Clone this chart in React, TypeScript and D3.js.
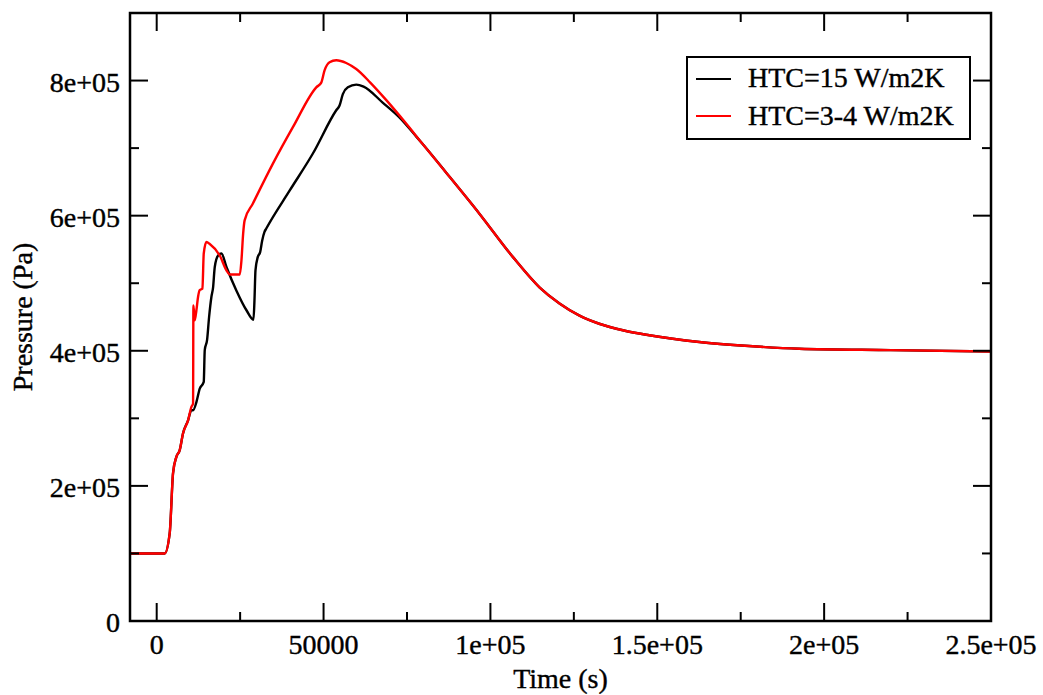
import React from "react";
import * as d3 from "d3";

const xMajorTicks = [0, 50000, 100000, 150000, 200000, 250000];
const xMajorLabels = ["0", "50000", "1e+05", "1.5e+05", "2e+05", "2.5e+05"];
const xMinorTicks = [25000, 75000, 125000, 175000, 225000];
const yMajorTicks = [0, 200000, 400000, 600000, 800000];
const yMajorLabels = ["0", "2e+05", "4e+05", "6e+05", "8e+05"];
const yMinorTicks = [100000, 300000, 500000, 700000];

const seriesNames = ["HTC=15 W/m2K", "HTC=3-4 W/m2K"];
const seriesColors = ["#000000", "#ff0000"];

const commonTail: [number, number][] = [
  [79700, 7.06e5], [86700, 6.64e5], [96700, 6.03e5], [106700, 5.39e5], [114700, 4.94e5],
  [120700, 4.7e5], [126700, 4.52e5], [132600, 4.4e5], [140000, 4.3e5], [147600, 4.23e5],
  [162600, 4.13e5], [177500, 4.07e5], [192500, 4.03e5], [220000, 4.01e5], [250000, 3.99e5],
];

const blackData: [number, number][] = [
  [-8000, 1.0e5], [2400, 1.0e5], [3900, 1.3e5], [4900, 2.19e5], [5900, 2.43e5], [6900, 2.53e5],
  [7900, 2.78e5], [9400, 2.97e5], [10400, 3.12e5], [10900, 3.12e5], [11900, 3.24e5],
  [12900, 3.44e5], [14100, 3.54e5], [14400, 4.01e5], [15100, 4.16e5], [15700, 4.5e5],
  [16400, 4.8e5], [16900, 4.94e5], [17400, 5.24e5], [18400, 5.41e5], [19400, 5.44e5],
  [20900, 5.24e5], [23900, 4.89e5], [26900, 4.6e5], [29000, 4.46e5], [29300, 4.75e5],
  [29600, 5.19e5], [30300, 5.39e5], [31000, 5.46e5], [31600, 5.63e5], [32300, 5.76e5],
  [32840, 5.81e5], [39820, 6.37e5], [46800, 6.92e5], [53800, 7.56e5], [54790, 7.63e5],
  [55780, 7.8e5], [57280, 7.9e5], [59800, 7.94e5], [62000, 7.91e5], [67800, 7.67e5],
  [72800, 7.45e5], [77800, 7.17e5],
  ...commonTail,
];

const redData: [number, number][] = [
  [-8000, 1.0e5], [2400, 1.0e5], [3900, 1.3e5], [4900, 2.19e5], [5900, 2.43e5], [6900, 2.53e5],
  [7900, 2.78e5], [9400, 2.97e5], [10400, 3.17e5], [10900, 3.22e5], [11000, 4.67e5],
  [11400, 4.45e5], [11900, 4.6e5], [12400, 4.8e5], [12900, 4.9e5], [13700, 4.92e5],
  [14100, 5.44e5], [14900, 5.61e5], [15900, 5.58e5], [18900, 5.41e5], [20900, 5.19e5],
  [21900, 5.13e5], [24900, 5.13e5], [25400, 5.34e5], [25900, 5.73e5], [26350, 5.93e5],
  [28830, 6.18e5], [34820, 6.77e5], [40810, 7.31e5], [47820, 7.9e5], [49310, 7.97e5],
  [50300, 8.15e5], [51800, 8.27e5], [53800, 8.3e5], [56800, 8.26e5], [59800, 8.17e5],
  [64000, 7.97e5], [68800, 7.71e5], [74800, 7.36e5],
  ...commonTail,
];

const W = 1043;
const H = 695;
const L = 130, R = 991, T = 13, B = 621;
const FONT = "'Liberation Serif', 'Times New Roman', serif";

export default function App() {
  const x = d3.scaleLinear().domain([-8000, 250000]).range([L, R]);
  const y = d3.scaleLinear().domain([0, 900000]).range([B, T]);
  const line = d3
    .line<[number, number]>()
    .x((d) => x(d[0]))
    .y((d) => y(d[1]))
    .curve(d3.curveMonotoneX);

  const major = 18;
  const minor = 9;

  return (
    <svg
      width={W}
      height={H}
      style={{ position: "absolute", left: 0, top: 0, display: "block", background: "#fff" }}
      fontFamily={FONT}
    >
      <rect x={0} y={0} width={W} height={H} fill="#fff" />
      <defs>
        <clipPath id="plotclip">
          <rect x={L} y={T} width={R - L} height={B - T} />
        </clipPath>
      </defs>
      <g clipPath="url(#plotclip)" fill="none" strokeWidth={2.4} strokeLinejoin="round">
        <path d={line(blackData) || ""} stroke={seriesColors[0]} />
        <path d={line(redData) || ""} stroke={seriesColors[1]} />
      </g>
      <g stroke="#000" strokeWidth={2}>
        {xMajorTicks.map((t) => (
          <g key={"xm" + t}>
            <line x1={x(t)} x2={x(t)} y1={B} y2={B - major} />
            <line x1={x(t)} x2={x(t)} y1={T} y2={T + major} />
          </g>
        ))}
        {xMinorTicks.map((t) => (
          <g key={"xn" + t}>
            <line x1={x(t)} x2={x(t)} y1={B} y2={B - minor} />
            <line x1={x(t)} x2={x(t)} y1={T} y2={T + minor} />
          </g>
        ))}
        {yMajorTicks.map((t) => (
          <g key={"ym" + t}>
            <line x1={L} x2={L + major} y1={y(t)} y2={y(t)} />
            <line x1={R} x2={R - major} y1={y(t)} y2={y(t)} />
          </g>
        ))}
        {yMinorTicks.map((t) => (
          <g key={"yn" + t}>
            <line x1={L} x2={L + minor} y1={y(t)} y2={y(t)} />
            <line x1={R} x2={R - minor} y1={y(t)} y2={y(t)} />
          </g>
        ))}
      </g>
      <rect x={L} y={T} width={R - L} height={B - T} fill="none" stroke="#000" strokeWidth={2.5} />
      <g fontSize={28} fill="#000" stroke="#000" strokeWidth={0.4}>
        {xMajorTicks.map((t, i) => (
          <text key={"xl" + t} x={x(t)} y={654} textAnchor="middle">
            {xMajorLabels[i]}
          </text>
        ))}
        {yMajorTicks.map((t, i) => (
          <text key={"yl" + t} x={120} y={y(t) + 11} textAnchor="end">
            {yMajorLabels[i]}
          </text>
        ))}
        <text x={(L + R) / 2} y={688} textAnchor="middle">
          Time (s)
        </text>
        <text transform={`translate(32, ${(T + B) / 2}) rotate(-90)`} textAnchor="middle">
          Pressure (Pa)
        </text>
      </g>
      <g>
        <rect x={687} y={57} width={283} height={82} fill="#fff" stroke="#000" strokeWidth={2} />
        {seriesNames.map((name, i) => (
          <g key={name}>
            <line x1={696} x2={731} y1={79 + i * 37} y2={79 + i * 37} stroke={seriesColors[i]} strokeWidth={2} />
            <text x={748} y={87 + i * 38} fontSize={28} fill="#000" stroke="#000" strokeWidth={0.4}>
              {name}
            </text>
          </g>
        ))}
      </g>
    </svg>
  );
}
